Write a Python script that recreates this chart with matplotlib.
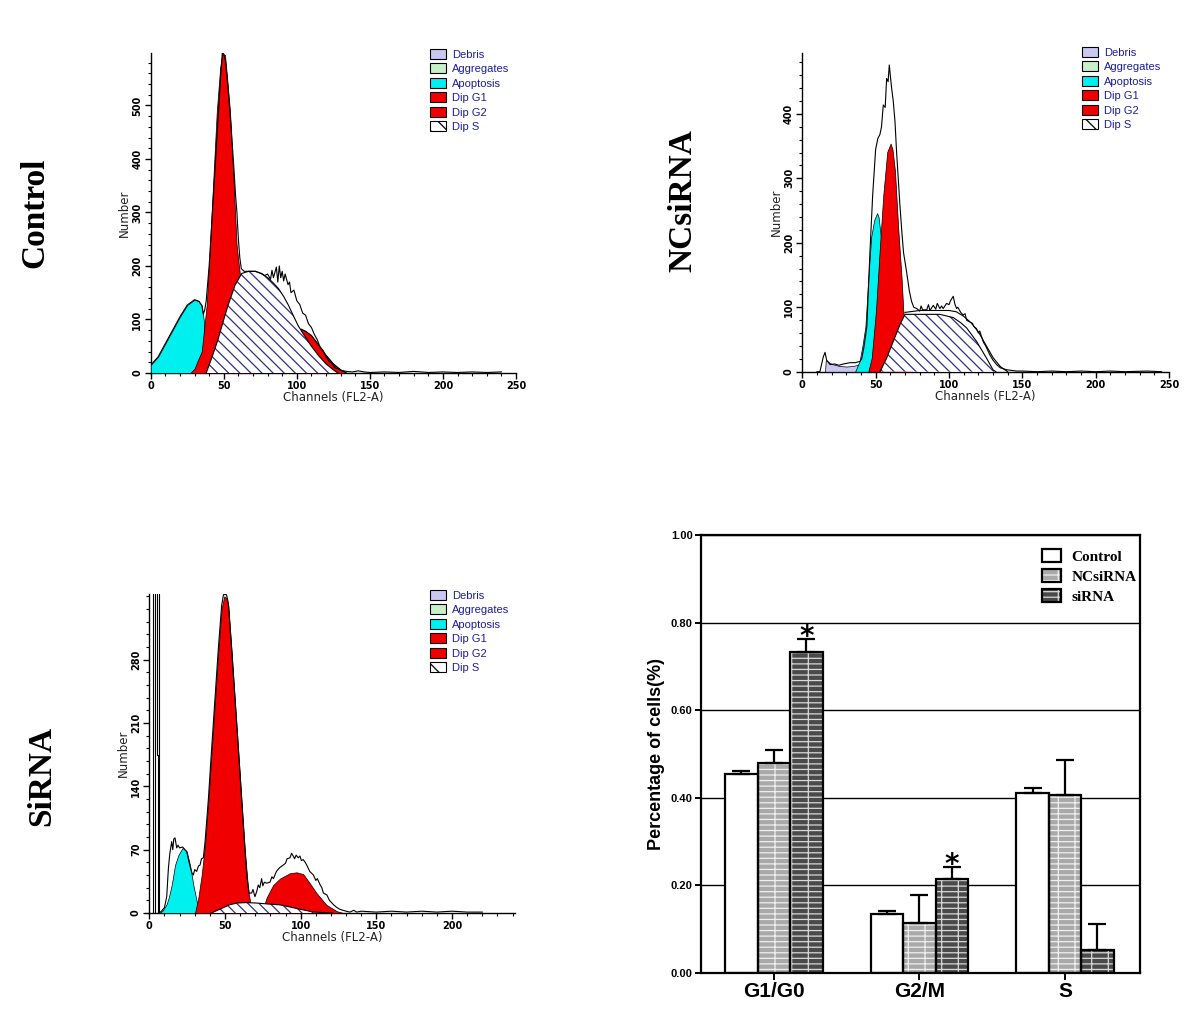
import matplotlib
matplotlib.use("Agg")
import matplotlib.pyplot as plt
from matplotlib.patches import Patch
from matplotlib.ticker import MultipleLocator

# ---------------- Control histogram (ModFit components) ----------------
ctrl_apop_x = [0, 5, 10, 15, 20, 25, 30, 33, 35, 36.5, 37.5]
ctrl_apop_y = [15, 30, 55, 80, 105, 127, 137, 134, 126, 95, 0]
ctrl_g1_x = [27, 30, 32, 34.9, 38.3, 40.6, 42.9, 45.2, 47.5, 49, 50.9, 52.5, 54.3, 56.6, 58.8, 61.1, 63, 65, 68, 72]
ctrl_g1_y = [0, 8, 22, 40, 127, 239, 364, 488, 570, 597, 594, 545, 488, 364, 239, 183, 140, 90, 30, 0]
ctrl_g2_x = [100, 103, 106, 110, 115, 120, 125, 130, 134]
ctrl_g2_y = [0, 82, 78, 70, 52, 33, 17, 6, 0]
ctrl_s_x = [38, 42, 46, 50, 53, 57.7, 62.3, 67, 71.4, 76, 80.5, 84, 87.4, 91, 94.2, 98, 101, 104, 108, 110, 115, 120, 125, 128]
ctrl_s_y = [0, 30, 62, 100, 127, 164, 186, 190, 190, 186, 177, 168, 158, 143, 127, 105, 88, 75, 58, 50, 32, 17, 6, 0]
ctrl_raw_x = [0, 5, 10, 15, 20, 25, 30, 33, 35, 36, 37, 38, 40, 42, 44, 46, 48, 49, 50, 51, 52, 53, 54, 55, 56, 57,
              58, 59, 60, 61, 62, 64, 68, 72, 76, 78, 80, 82, 83, 84, 86, 87, 88, 89, 90, 91, 92, 94, 95, 96, 98,
              100, 102, 104, 106, 108, 110, 112, 114, 116, 118, 120, 122, 124, 126, 128, 130, 134, 138, 142, 146,
              150, 160, 170, 180, 190, 200, 210, 220, 230, 240]
ctrl_raw_y = [15, 30, 55, 80, 105, 127, 137, 134, 126, 110, 118, 135, 200, 290, 380, 470, 560, 598, 596, 585, 560,
              530, 495, 460, 420, 380, 335, 300, 250, 215, 195, 190, 190, 190, 185, 182, 185, 175, 192, 178, 198,
              170, 200, 178, 190, 172, 185, 165, 170, 150, 155, 135, 128, 112, 108, 92, 85, 72, 62, 48, 42, 30, 22,
              18, 10, 8, 5, 3, 2, 4, 2, 1, 2, 1, 3, 1, 2, 1, 2, 1, 2]

# ---------------- NCsiRNA histogram ----------------
nc_debris_x = [15.5, 16, 20, 25, 30, 35, 38, 41, 44]
nc_debris_y = [0, 18, 12, 9, 8, 9, 11, 15, 0]
nc_apop_x = [36, 39, 41, 43, 45, 47, 49, 51, 52, 53.5, 55, 56]
nc_apop_y = [0, 16, 40, 70, 145, 210, 235, 246, 240, 210, 150, 0]
nc_g1_x = [45, 47.3, 50.2, 53, 55.2, 57.9, 60.2, 61.5, 63.2, 65.4, 67.7, 68.9, 70, 72, 75]
nc_g1_y = [0, 21, 94, 197, 274, 341, 354, 345, 311, 222, 145, 93, 70, 30, 0]
nc_s_x = [53, 57.5, 62, 66.6, 70, 78, 86, 93.8, 102.9, 108, 112, 118.8, 125.6, 130, 132]
nc_s_y = [0, 21, 47, 73, 89, 89, 89, 89, 84, 76, 68, 47, 21, 3, 0]
nc_fit_x = [70, 80, 90, 100, 105, 110, 115, 120, 125, 130, 135, 140]
nc_fit_y = [92, 95, 95, 95, 93, 86, 76, 62, 42, 22, 8, 0]
nc_raw_x = [10, 12, 14.3, 15.5, 16.6, 18.9, 22, 25, 28, 32.5, 36, 39.3, 40.5, 42, 44, 46, 48, 50, 51.5, 52.9, 54,
            55.2, 56.5, 57.5, 58.5, 59.3, 60, 60.9, 62, 63.2, 64.3, 65.4, 66.5, 67.7, 69, 71.1, 73, 74.5, 76, 78,
            80, 81, 82, 84.8, 86, 87, 89.3, 91, 92, 93.8, 95, 96, 98.4, 100, 101, 102.9, 104, 105.2, 106, 108,
            109.7, 111, 112, 114.3, 116, 117, 118.7, 120, 121, 123.4, 125, 127.9, 130, 132.5, 135, 139.3, 146,
            150, 160, 170, 180, 190, 200, 210, 220, 235, 245]
nc_raw_y = [0, 0, 23, 30, 18, 11, 12, 10, 12, 14, 14, 16, 20, 38, 70, 180, 275, 345, 362, 368, 380, 414, 410, 455,
            450, 476, 460, 440, 420, 388, 340, 300, 260, 222, 185, 155, 125, 109, 100, 98, 94, 102, 96, 96, 104,
            95, 103, 97, 106, 98, 102, 98, 106, 104, 110, 117, 105, 98, 100, 92, 88, 90, 80, 77, 75, 70, 67, 60,
            63, 46, 40, 26, 18, 11, 6, 3, 1, 1, 0, 1, 0, 1, 0, 1, 0, 1, 0]

# ---------------- SiRNA histogram ----------------
si_spike_outer_x = [2.6, 2.6, 6.6, 6.6]
si_spike_outer_y = [0, 400, 400, 0]
si_spike_inner_x = [3.7, 3.7, 5.4, 5.4, 6.0, 6.0]
si_spike_inner_y = [0, 400, 400, 175, 175, 0]
si_apop_x = [7, 9, 11.5, 13, 14.8, 17, 19.2, 22, 24.7, 26.9, 29.1, 31.3, 33.5, 35]
si_apop_y = [0, 3, 10, 18, 31, 53, 64, 72, 68, 53, 31, 13, 2, 0]
si_g1_x = [30.2, 32.4, 34.6, 36.8, 39, 41.2, 43.4, 45.6, 47.8, 49.5, 50.5, 52.2, 54.4, 56.6, 58.8, 61, 63.2, 65.4, 66.9, 68.5]
si_g1_y = [0, 17, 42, 75, 123, 179, 234, 289, 337, 350, 349, 340, 289, 234, 179, 123, 68, 24, 10, 0]
si_g2_x = [74.2, 77.5, 81.9, 86.3, 92.9, 97.3, 101.7, 106, 110.5, 117, 123.9, 128]
si_g2_y = [0, 17, 31, 38, 44, 45, 43, 33, 22, 9, 2, 0]
si_s_x = [41, 45, 49, 53, 57.7, 64, 71, 78, 86.3, 92, 97.3, 103, 108.4, 115, 121]
si_s_y = [0, 3, 6, 9, 11, 11.5, 11, 10, 9, 7, 5, 3, 1, 0.5, 0]
si_raw_x = [6.6, 8, 10, 11.5, 12.6, 13.5, 14.8, 15.5, 16.2, 17, 18.1, 19, 20, 22, 24.7, 26, 27.5, 28.3, 29.1, 30,
            31.3, 32.5, 33.5, 34.5, 35.7, 36.8, 39, 41.2, 43.4, 45.6, 47.8, 49, 50, 51, 52.2, 54.4, 56.6, 58.8, 61,
            63.2, 64.5, 65.4, 66, 67.6, 68.5, 69.8, 71, 72, 73, 74.2, 75, 76, 77.5, 79.7, 81, 82, 84, 86, 88.5, 90,
            91, 92.9, 94, 95.1, 96, 97, 98.4, 99.5, 100.5, 101.7, 103, 104, 106, 108.4, 110, 111, 112.9, 114, 115,
            117.3, 119, 121.8, 124, 126, 130, 132.6, 135, 137, 140, 150, 160, 170, 180, 190, 200, 210, 220]
si_raw_y = [0, 2, 6, 18, 49, 65, 79, 70, 82, 83, 72, 75, 72, 73, 68, 58, 48, 44, 42, 48, 46, 52, 53, 60, 61, 78,
            125, 182, 237, 292, 340, 352, 352, 352, 343, 292, 237, 182, 126, 70, 40, 28, 22, 22, 26, 18, 24, 31,
            28, 38, 30, 34, 33, 34, 40, 38, 46, 50, 53, 55, 60, 61, 66, 63, 60, 64, 61, 63, 58, 59, 56, 53, 46, 42,
            36, 38, 31, 28, 22, 20, 14, 9, 6, 4, 2, 1, 3, 1, 2, 1, 2, 1, 2, 1, 2, 1, 1]

# tick labels of the histograms
ctrl_yticks = [0, 100, 200, 300, 400, 500]
nc_yticks = [0, 100, 200, 300, 400]
si_yticks = [0, 70, 140, 210, 280]
ctrl_xticks = [0, 50, 100, 150, 200, 250]
nc_xticks = [0, 50, 100, 150, 200, 250]
si_xticks = [0, 50, 100, 150, 200]

# ---------------- Bar chart ----------------
phases = ["G1/G0", "G2/M", "S"]
groups = ["Control", "NCsiRNA", "siRNA"]
control_vals = [0.453, 0.135, 0.410]
control_err = [0.008, 0.005, 0.011]
ncsirna_vals = [0.478, 0.113, 0.407]
ncsirna_err = [0.031, 0.064, 0.079]
sirna_vals = [0.732, 0.213, 0.053]
sirna_err = [0.030, 0.029, 0.058]
significant = [[False, False, False], [False, False, False], [True, True, False]]
bar_yticks = [0, 0.2, 0.4, 0.6, 0.8, 1.0]

# ---------------- styles ----------------
plt.rcParams["hatch.linewidth"] = 0.9
W, H = 1200, 1013
fig = plt.figure(figsize=(W / 100, H / 100), dpi=100)

C_DEBRIS = "#c8c8f0"
C_AGG = "#c8f0c8"
C_APOP = "#00f0f0"
C_RED = "#f00000"
C_HATCH = "#303088"
LEG_TXT = "#1c1ca0"


def px_axes(x0, x1, ytop, ybot):
    return fig.add_axes([x0 / W, 1 - ybot / H, (x1 - x0) / W, (ybot - ytop) / H])


def hist_panel(ax, xmax, ymax, yticks, yminor, xticks, comps, raw, extra_lines=()):
    ax.set_xlim(0, xmax)
    ax.set_ylim(0, ymax)
    for s in ("top", "right"):
        ax.spines[s].set_visible(False)
    for s in ("left", "bottom"):
        ax.spines[s].set_linewidth(1.0)
    for kind, xs, ys in comps:
        if kind == "S":
            ax.fill_between(xs, 0, ys, facecolor="white", edgecolor=C_HATCH, hatch="\\\\\\",
                            linewidth=0, zorder=4)
            ax.plot(xs, ys, color="black", lw=0.8, zorder=5)
        else:
            col = {"debris": C_DEBRIS, "apop": C_APOP, "red": C_RED}[kind]
            ax.fill_between(xs, 0, ys, facecolor=col, edgecolor="black", linewidth=0.5, zorder=3)
    for xs, ys in extra_lines:
        ax.plot(xs, ys, color="black", lw=0.8, zorder=6)
    ax.plot(raw[0], raw[1], color="black", lw=0.8, zorder=6)
    ax.set_yticks(yticks)
    ax.yaxis.set_minor_locator(MultipleLocator(yminor))
    ax.xaxis.set_minor_locator(MultipleLocator(10))
    ax.set_xticks(xticks)
    ax.tick_params(axis="both", which="major", direction="out", length=4, width=1, labelsize=7, pad=2)
    ax.tick_params(axis="both", which="minor", direction="out", length=2.5, width=0.8)
    ax.tick_params(axis="y", labelrotation=90)
    for lbl in ax.get_yticklabels():
        lbl.set_va("center")
        lbl.set_fontweight("bold")
    for lbl in ax.get_xticklabels():
        lbl.set_fontweight("bold")
    ax.set_ylabel("Number", fontsize=8.5, labelpad=1, color="#222222")
    ax.set_xlabel("Channels (FL2-A)", fontsize=8.5, labelpad=0, color="#222222")
    ax.patch.set_alpha(0)


def hist_legend(xpx, ypx):
    handles = [
        Patch(facecolor=C_DEBRIS, edgecolor="black", linewidth=0.8),
        Patch(facecolor=C_AGG, edgecolor="black", linewidth=0.8),
        Patch(facecolor=C_APOP, edgecolor="black", linewidth=0.8),
        Patch(facecolor=C_RED, edgecolor="black", linewidth=0.8),
        Patch(facecolor=C_RED, edgecolor="black", linewidth=0.8),
        Patch(facecolor="white", edgecolor="black", hatch="\\\\", linewidth=0.8),
    ]
    labels = ["Debris", "Aggregates", "Apoptosis", "Dip G1", "Dip G2", "Dip S"]
    fig.legend(handles, labels, loc="upper left", bbox_to_anchor=(xpx / W, 1 - ypx / H),
               frameon=False, labelcolor=LEG_TXT, prop={"family": "Liberation Sans", "size": 8},
               handlelength=1.4, handleheight=1.0, labelspacing=0.33, handletextpad=0.6,
               borderpad=0, borderaxespad=0)


# Control
ax1 = px_axes(150.7, 516, 53, 373)
hist_panel(ax1, 250, 598, ctrl_yticks, 20, ctrl_xticks,
           [("apop", ctrl_apop_x, ctrl_apop_y), ("red", ctrl_g1_x, ctrl_g1_y),
            ("red", ctrl_g2_x, ctrl_g2_y), ("S", ctrl_s_x, ctrl_s_y)],
           (ctrl_raw_x, ctrl_raw_y), extra_lines=[(ctrl_g2_x[1:], ctrl_g2_y[1:])])
hist_legend(430, 49)

# NCsiRNA
ax2 = px_axes(802.3, 1169, 52.7, 371.7)
hist_panel(ax2, 250, 495, nc_yticks, 20, nc_xticks,
           [("debris", nc_debris_x, nc_debris_y), ("apop", nc_apop_x, nc_apop_y),
            ("red", nc_g1_x, nc_g1_y), ("S", nc_s_x, nc_s_y)],
           (nc_raw_x, nc_raw_y), extra_lines=[(nc_fit_x, nc_fit_y)])
hist_legend(1082, 47)

# SiRNA
ax3 = px_axes(149.3, 515, 594, 913)
hist_panel(ax3, 241.6, 352.7, si_yticks, 14, si_xticks,
           [("apop", si_apop_x, si_apop_y), ("red", si_g1_x, si_g1_y),
            ("red", si_g2_x, si_g2_y), ("S", si_s_x, si_s_y)],
           (si_raw_x, si_raw_y))
ax3.plot(si_spike_outer_x, si_spike_outer_y, color="black", lw=0.8, zorder=6)
ax3.plot(si_spike_inner_x, si_spike_inner_y, color="black", lw=0.8, zorder=6)
hist_legend(430, 590)

# Row labels
rowfont = dict(family="Liberation Serif", fontweight="bold", fontsize=24, rotation=90,
               ha="center", va="center")
fig.text(35 / W, 1 - 213 / H, "Control", **rowfont)
fig.text(683 / W, 1 - 201 / H, "NCsiRNA", **rowfont)
fig.text(42 / W, 1 - 776 / H, "SiRNA", **rowfont)

# ---------------- Bar chart ----------------
ax4 = px_axes(701, 1140, 535, 972.7)
ax4.set_xlim(-0.5, 2.515)
ax4.set_ylim(0, 1.0)
bw = 0.223
xs = list(range(len(phases)))
vals_all = [control_vals, ncsirna_vals, sirna_vals]
errs_all = [control_err, ncsirna_err, sirna_err]
faces = ["white", "#a9a9a9", "#4a4a4a"]
hatches = [None, "---|", "---|"]
hatch_cols = ["white", "#efefef", "#d8d8d8"]
legend_handles = []
for gi in range(3):
    pos = [x + (gi - 1) * bw for x in xs]
    if hatches[gi]:
        ax4.bar(pos, vals_all[gi], bw, color=faces[gi], edgecolor=hatch_cols[gi], hatch=hatches[gi],
                linewidth=0, zorder=2)
    else:
        ax4.bar(pos, vals_all[gi], bw, color=faces[gi], linewidth=0, zorder=2)
    ax4.bar(pos, vals_all[gi], bw, fill=False, edgecolor="black", linewidth=1.6, zorder=3)
    ax4.errorbar(pos, vals_all[gi], yerr=[[0] * 3, errs_all[gi]], fmt="none", ecolor="black",
                 elinewidth=1.6, capsize=6.5, capthick=1.6, zorder=4)
    for j in range(3):
        if significant[gi][j]:
            ax4.text(pos[j], vals_all[gi][j] + errs_all[gi][j] + 0.004, "*", ha="center", va="center",
                     fontsize=20, fontweight="bold", family="DejaVu Sans")
    if hatches[gi]:
        h = (Patch(facecolor=faces[gi], edgecolor=hatch_cols[gi], hatch=hatches[gi], linewidth=0),
             Patch(fill=False, edgecolor="black", linewidth=1.6))
    else:
        h = Patch(facecolor="white", edgecolor="black", linewidth=1.6)
    legend_handles.append(h)

ax4.set_yticks(bar_yticks)
ax4.set_yticklabels([f"{v:.2f}" for v in bar_yticks])
ax4.yaxis.grid(True, color="black", linewidth=1.0, zorder=0)
ax4.set_axisbelow(True)
ax4.set_xticks(xs)
ax4.set_xticklabels(phases)
for s in ax4.spines.values():
    s.set_linewidth(1.6)
ax4.tick_params(axis="y", direction="out", length=4, width=1.4, labelsize=8, pad=2)
ax4.tick_params(axis="x", direction="out", length=5, width=1.4, labelsize=15, pad=2)
for lbl in ax4.get_yticklabels():
    lbl.set_fontweight("bold")
    lbl.set_family("Liberation Sans")
for lbl in ax4.get_xticklabels():
    lbl.set_fontweight("bold")
    lbl.set_family("Liberation Sans")
ax4.set_ylabel("Percentage of cells(%)", fontsize=13, fontweight="bold", family="Liberation Sans", labelpad=4)
ax4.legend(legend_handles, groups, loc="upper left", bbox_to_anchor=(0.76, 0.985), frameon=False,
           prop={"family": "Liberation Serif", "weight": "bold", "size": 11},
           handlelength=1.2, handleheight=0.9, labelspacing=0.35, handletextpad=0.7, borderpad=0)

fig.savefig("out.png", dpi=100, facecolor="white")
